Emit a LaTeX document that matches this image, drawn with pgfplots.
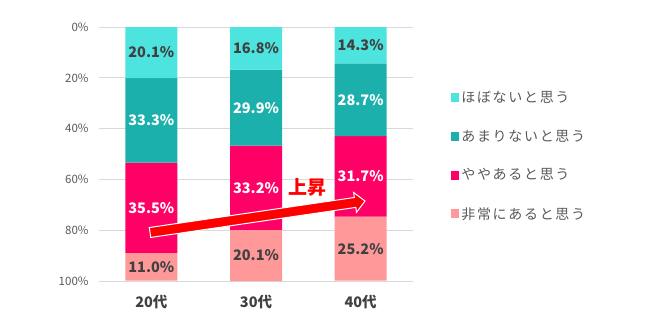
\documentclass[border=0pt]{standalone}
\usepackage{fontspec}
\setmainfont{Noto Sans CJK JP}
\newfontfamily\legfont[LetterSpace=12]{Noto Sans CJK JP}
\usepackage{pgfplots}
\pgfplotsset{compat=1.18}
\usepackage{pgfplotstable}
\definecolor{c1}{RGB}{77,227,222}
\definecolor{c2}{RGB}{27,176,172}
\definecolor{c3}{RGB}{255,0,102}
\definecolor{c4}{RGB}{255,153,153}
\definecolor{gridgray}{RGB}{217,217,217}
\definecolor{tickgray}{RGB}{89,89,89}
\definecolor{darktext}{RGB}{64,64,64}
\pgfplotstableread{
x a b c d
0 20.1 33.3 35.5 11.0
1 16.8 29.9 33.2 20.1
2 14.3 28.7 31.7 25.2
}\datatable
\begin{document}
\begin{tikzpicture}
\path[use as bounding box] (0,0) rectangle (650bp,329bp);
\begin{axis}[
  at={(99bp,48bp)}, anchor=south west,
  scale only axis, width=314bp, height=254bp,
  ybar stacked, bar width=52bp,
  y dir=reverse,
  ymin=0, ymax=100, xmin=-0.5, xmax=2.5,
  axis line style={draw=none},
  ymajorgrids, grid style={draw=gridgray, line width=0.8bp},
  major tick length=0,
  xtick={0,1,2}, xticklabels={20代,30代,40代},
  xticklabel style={font=\bfseries\fontsize{14.5bp}{16bp}\selectfont, text=darktext, yshift=-11bp},
  ytick={0,20,...,100},
  yticklabel={\pgfmathprintnumber[assume math mode=true]{\tick}\%},
  yticklabel style={font=\fontsize{11.5bp}{13bp}\selectfont, text=tickgray, xshift=-7bp},
  nodes near coords={\pgfmathprintnumber[assume math mode=true,fixed,fixed zerofill,precision=1]{\pgfplotspointmeta}\%},
  point meta=explicit,
  every node near coord/.append style={anchor=center, font=\bfseries\fontsize{14.5bp}{17bp}\selectfont},
  legend style={at={(1.12,0.755)}, anchor=north west, draw=none, fill=none, inner sep=0pt,
    font=\legfont\fontsize{14bp}{16bp}\selectfont, text=tickgray, row sep=21.8bp, cells={anchor=west}},
  legend image code/.code={\fill[#1] (0bp,-4.5bp) rectangle (8.5bp,4.5bp);},
]
\addplot[fill=c1, draw=none, every node near coord/.append style={text=darktext}] table[x=x,y=a,meta=a]{\datatable};
\addplot[fill=c2, draw=none, every node near coord/.append style={text=white}] table[x=x,y=b,meta=b]{\datatable};
\addplot[fill=c3, draw=none, every node near coord/.append style={text=white}] table[x=x,y=c,meta=c]{\datatable};
\addplot[fill=c4, draw=none, every node near coord/.append style={text=darktext}] table[x=x,y=d,meta=d]{\datatable};
\legend{ほぼないと思う,あまりないと思う,ややあると思う,非常にあると思う}
\end{axis}
\fill[red, draw=white, line width=1bp]
  (149.28bp,101.45bp) -- (354.38bp,131.50bp) -- (353.65bp,136.44bp) -- (365bp,128bp)
  -- (356.55bp,116.66bp) -- (355.83bp,121.60bp) -- (150.73bp,91.55bp) -- cycle;
\node[text=red, font=\bfseries\fontsize{19bp}{21bp}\selectfont] at (307.5bp,141.5bp) {上昇};
\end{tikzpicture}
\end{document}
